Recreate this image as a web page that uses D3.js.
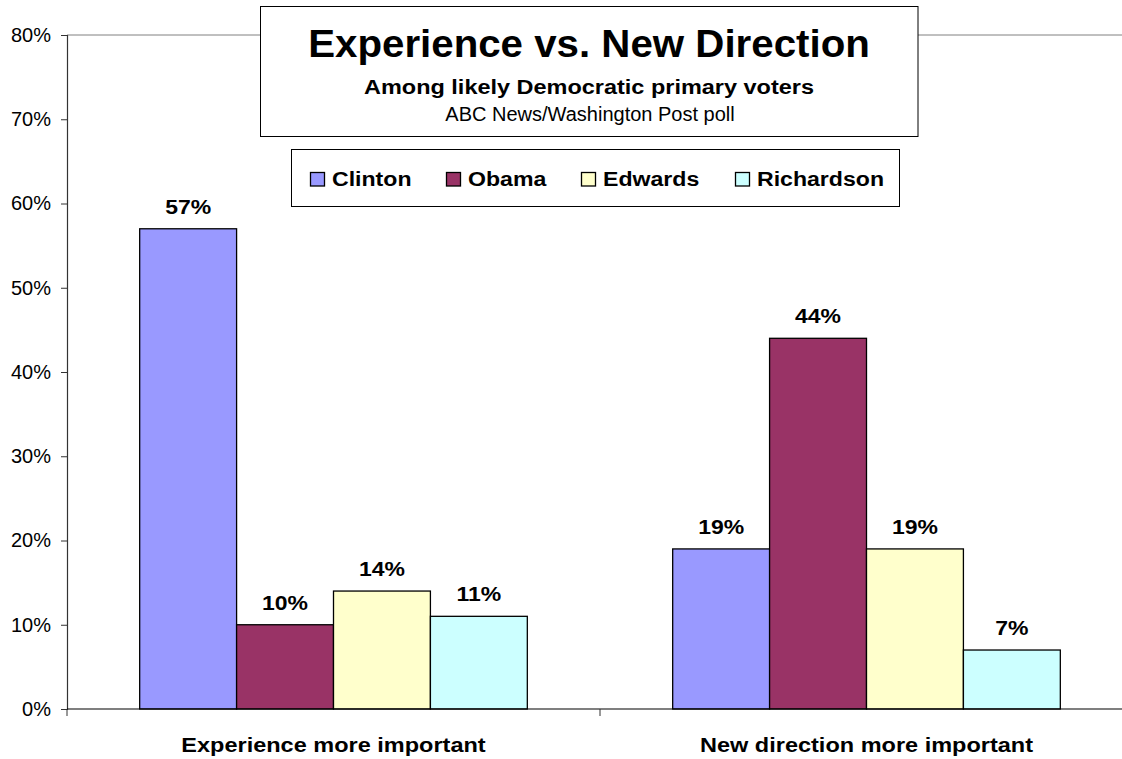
<!DOCTYPE html>
<html><head><meta charset="utf-8">
<script src="https://cdn.jsdelivr.net/npm/d3@7"></script>
<style>
html,body{margin:0;padding:0;background:#fff;}
text{font-family:"Liberation Sans",Arial,sans-serif;}
</style></head>
<body>
<svg id="c" width="1122" height="759"></svg>
<script>
const categories = ["Experience more important", "New direction more important"];
const seriesNames = ["Clinton", "Obama", "Edwards", "Richardson"];
const clinton = [57, 19];
const obama = [10, 44];
const edwards = [14, 19];
const richardson = [11, 7];
const yTicks = [0, 10, 20, 30, 40, 50, 60, 70, 80];
const colors = ["#9999FF", "#993366", "#FFFFCC", "#CCFFFF"];
const titleText = "Experience vs. New Direction";
const subtitleText = "Among likely Democratic primary voters";
const sourceText = "ABC News/Washington Post poll";

const seriesValues = [clinton, obama, edwards, richardson];
const svg = d3.select("#c");
const pL = 67, pR = 1133, pT = 35, pB = 709;

const y = d3.scaleLinear().domain([0, 80]).range([pB, pT]);
const x0 = d3.scaleBand().domain(categories).range([pL, pR]).paddingInner(0).paddingOuter(0);
const x1 = d3.scaleBand().domain(seriesNames).range([0, x0.bandwidth()]).paddingOuter(0.75).paddingInner(0);

function stretchedText(parent, x, yy, str, size, weight, sx, anchor) {
  return parent.append("text")
    .attr("transform", `translate(${x},${yy}) scale(${sx},1)`)
    .attr("text-anchor", anchor || "middle")
    .attr("font-size", size)
    .attr("font-weight", weight)
    .attr("fill", "#000")
    .text(str);
}

// top line at 80%
svg.append("line").attr("x1", pL).attr("x2", 1122).attr("y1", y(80)).attr("y2", y(80))
  .attr("stroke", "#808080").attr("stroke-width", 1);

// bars
categories.forEach((cat, ci) => {
  seriesNames.forEach((s, si) => {
    const v = seriesValues[si][ci];
    const bx = x0(cat) + x1(s);
    svg.append("rect")
      .attr("x", bx).attr("y", y(v))
      .attr("width", x1.bandwidth()).attr("height", y(0) - y(v))
      .attr("fill", colors[si]).attr("stroke", "#000").attr("stroke-width", 1.3);
    stretchedText(svg, bx + x1.bandwidth() / 2, y(v) - 15, v + "%", 21, "bold", 1.095);
  });
});

// y axis
const yAxis = d3.axisLeft(y).tickValues(yTicks).tickFormat(d => d + "%").tickSize(6).tickPadding(10);
const yg = svg.append("g").attr("transform", `translate(${pL},0)`).call(yAxis);
yg.select(".domain").attr("stroke", "#333").attr("stroke-width", 1.2);
yg.selectAll(".tick line").attr("stroke", "#333");
yg.selectAll(".tick text").attr("font-size", 20).attr("fill", "#000")
  .attr("font-family", "Liberation Sans, Arial, sans-serif");

// x axis
const xAxis = d3.axisBottom(x0).tickSize(0).tickPadding(0).tickFormat("");
const xg = svg.append("g").attr("transform", `translate(0,${pB})`).call(xAxis);
xg.select(".domain").remove();
xg.append("line").attr("x1", pL).attr("x2", 1122).attr("y1", 0).attr("y2", 0).attr("stroke", "#000").attr("stroke-width", 1.2);
categories.forEach(cat => {
  stretchedText(svg, x0(cat) + x0.bandwidth() / 2, 752, cat, 21, "bold", 1.12);
});
// category separators
[pL, x0(categories[1])].forEach(px => {
  xg.append("line").attr("x1", px).attr("x2", px).attr("y1", 0).attr("y2", 7).attr("stroke", "#333");
});

// title box
svg.append("rect").attr("x", 260.5).attr("y", 6.5).attr("width", 657.5).attr("height", 130)
  .attr("fill", "#fff").attr("stroke", "#000").attr("stroke-width", 1);
stretchedText(svg, 589, 57, titleText, 38, "bold", 1.06);
stretchedText(svg, 589, 94, subtitleText, 21, "bold", 1.118);
stretchedText(svg, 590, 120.5, sourceText, 20, "normal", 1.0);

// legend
svg.append("rect").attr("x", 291.5).attr("y", 149.5).attr("width", 608).attr("height", 57)
  .attr("fill", "#fff").attr("stroke", "#000").attr("stroke-width", 1);
const legendX = [310, 446, 581, 735];
seriesNames.forEach((s, i) => {
  svg.append("rect").attr("x", legendX[i] + 0.5).attr("y", 172.5).attr("width", 14).attr("height", 13.5)
    .attr("fill", colors[i]).attr("stroke", "#000").attr("stroke-width", 1.3);
  stretchedText(svg, legendX[i] + 22, 186, s, 21, "bold", 1.1, "start");
});
</script>
</body></html>
